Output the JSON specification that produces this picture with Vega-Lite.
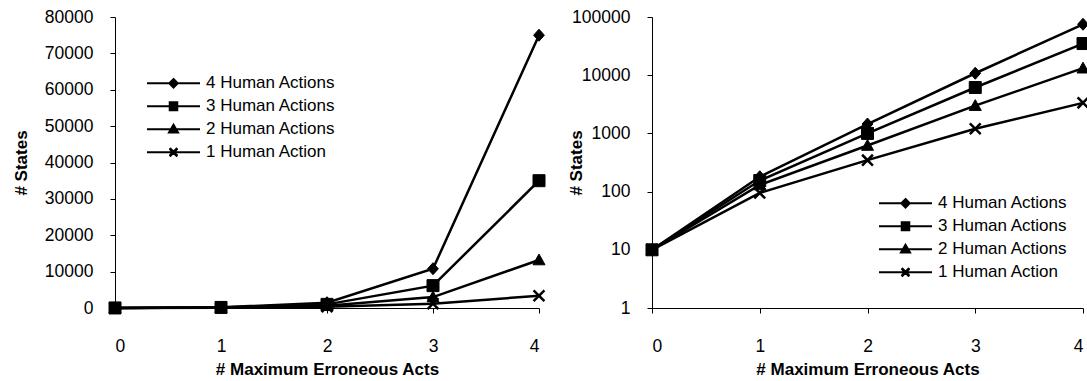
{
  "$schema": "https://vega.github.io/schema/vega-lite/v6.json",
  "padding": {"left": 12, "top": 8, "right": 0, "bottom": 0},
  "background": "white",
  "config": {
    "view": {"stroke": null},
    "font": "Liberation Sans",
    "axis": {"grid": false, "domainColor": "#000", "tickColor": "#000", "labelColor": "#000", "titleColor": "#000", "labelFont": "Liberation Sans", "titleFont": "Liberation Sans", "labelFontSize": 17.5, "titleFontSize": 17, "titleFontWeight": "bold", "tickSize": 5, "domainWidth": 1, "tickWidth": 1},
    "legend": {"padding": 0, "labelFont": "Liberation Sans", "labelFontSize": 17, "labelColor": "#000"}
  },
  "datasets": {
    "d": [
      {"acts": 0, "series": "4 Human Actions", "states": 10},
      {"acts": 1, "series": "4 Human Actions", "states": 180},
      {"acts": 2, "series": "4 Human Actions", "states": 1450},
      {"acts": 3, "series": "4 Human Actions", "states": 10800},
      {"acts": 4, "series": "4 Human Actions", "states": 75000},
      {"acts": 0, "series": "3 Human Actions", "states": 10},
      {"acts": 1, "series": "3 Human Actions", "states": 155},
      {"acts": 2, "series": "3 Human Actions", "states": 1000},
      {"acts": 3, "series": "3 Human Actions", "states": 6150},
      {"acts": 4, "series": "3 Human Actions", "states": 35000},
      {"acts": 0, "series": "2 Human Actions", "states": 10},
      {"acts": 1, "series": "2 Human Actions", "states": 130},
      {"acts": 2, "series": "2 Human Actions", "states": 620},
      {"acts": 3, "series": "2 Human Actions", "states": 3000},
      {"acts": 4, "series": "2 Human Actions", "states": 13200},
      {"acts": 0, "series": "1 Human Action", "states": 10},
      {"acts": 1, "series": "1 Human Action", "states": 95},
      {"acts": 2, "series": "1 Human Action", "states": 347},
      {"acts": 3, "series": "1 Human Action", "states": 1200},
      {"acts": 4, "series": "1 Human Action", "states": 3350}
    ]
  },
  "spacing": 1,
  "hconcat": [
    {
      "width": 424,
      "height": 291,
      "data": {"name": "d"},
      "resolve": {"scale": {"shape": "independent"}},
      "encoding": {
        "x": {"field": "acts", "type": "quantitative", "scale": {"domain": [0, 4], "nice": false}, "axis": {"values": [0, 1, 2, 3, 4], "title": "# Maximum Erroneous Acts", "labelBaseline": "alphabetic", "labelPadding": 38, "titleBaseline": "alphabetic", "titleY": 66}},
        "y": {"field": "states", "type": "quantitative", "scale": {"domain": [0, 80000], "nice": false}, "axis": {"values": [0, 10000, 20000, 30000, 40000, 50000, 60000, 70000, 80000], "format": "d", "title": "# States", "labelPadding": 17, "titleX": -94, "titleBaseline": "middle"}}
      },
      "layer": [
        {"mark": {"type": "line", "color": "#000", "strokeWidth": 2.5}, "encoding": {"detail": {"field": "series"}}},
        {
          "transform": [{"filter": "datum.series != '1 Human Action'"}],
          "mark": {"type": "point", "filled": true, "fill": "#000", "stroke": "#000", "strokeWidth": 1, "size": 144, "opacity": 1},
          "encoding": {"shape": {"field": "series", "legend": null, "scale": {"domain": ["4 Human Actions", "3 Human Actions", "2 Human Actions", "1 Human Action"], "range": ["M0,-1L0.9,0L0,1L-0.9,0Z", "M-1,-1H1V1H-1Z", "M0,-1L1,0.8L-1,0.8Z", "M-0.9,-0.9L0.9,0.9M0.9,-0.9L-0.9,0.9"]}}}
        },
        {
          "transform": [{"filter": "datum.series == '1 Human Action'"}],
          "mark": {"type": "point", "filled": false, "stroke": "#000", "strokeWidth": 2.5, "size": 144, "opacity": 1},
          "encoding": {"shape": {"field": "series", "legend": null, "scale": {"domain": ["4 Human Actions", "3 Human Actions", "2 Human Actions", "1 Human Action"], "range": ["M0,-1L0.9,0L0,1L-0.9,0Z", "M-1,-1H1V1H-1Z", "M0,-1L1,0.8L-1,0.8Z", "M-0.9,-0.9L0.9,0.9M0.9,-0.9L-0.9,0.9"]}}}
        },
        {
          "mark": {"type": "point", "filled": false, "color": "#000", "strokeWidth": 2, "opacity": 0, "size": 2809},
          "encoding": {"shape": {"field": "series", "scale": {"domain": ["4 Human Actions", "3 Human Actions", "2 Human Actions", "1 Human Action"], "range": [
              "M-1,0H1M0,-0.16L0.16,0L0,0.16L-0.16,0ZM-0.085,-0.075H0.085M-0.085,0.075H0.085M-0.02,-0.14H0.02M-0.02,0.14H0.02",
              "M-1,0H1M-0.18,-0.15H0.18M-0.18,-0.075H0.18M-0.18,0.075H0.18M-0.18,0.15H0.18",
              "M-1,0H1M0,-0.17L0.17,0.12L-0.17,0.12ZM-0.13,0.05H0.13M-0.085,-0.025H0.085M-0.04,-0.1H0.04",
              "M-1,0H1M-0.15,-0.15L0.15,0.15M0.15,-0.15L-0.15,0.15M-0.15,-0.13L0.13,0.15M-0.13,-0.15L0.15,0.13M0.15,-0.13L-0.13,0.15M0.13,-0.15L-0.15,0.13"
            ]},
            "legend": {"title": null, "orient": "none", "legendX": 31, "legendY": 55, "symbolSize": 2809, "symbolStrokeWidth": 2, "symbolStrokeColor": "#000", "symbolOpacity": 1, "labelOffset": 5, "clipHeight": 22.6, "rowPadding": 0}}}
        }
      ]
    },
    {
      "width": 431,
      "height": 291,
      "data": {"name": "d"},
      "resolve": {"scale": {"shape": "independent"}},
      "encoding": {
        "x": {"field": "acts", "type": "quantitative", "scale": {"domain": [0, 4], "nice": false}, "axis": {"values": [0, 1, 2, 3, 4], "title": "# Maximum Erroneous Acts", "labelBaseline": "alphabetic", "labelPadding": 38, "titleBaseline": "alphabetic", "titleY": 66}},
        "y": {"field": "states", "type": "quantitative", "scale": {"type": "log", "domain": [1, 100000], "nice": false}, "axis": {"values": [1, 10, 100, 1000, 10000, 100000], "format": "d", "title": "# States", "labelPadding": 17, "titleX": -76, "titleBaseline": "middle"}}
      },
      "layer": [
        {"mark": {"type": "line", "color": "#000", "strokeWidth": 2.5}, "encoding": {"detail": {"field": "series"}}},
        {
          "transform": [{"filter": "datum.series != '1 Human Action'"}],
          "mark": {"type": "point", "filled": true, "fill": "#000", "stroke": "#000", "strokeWidth": 1, "size": 144, "opacity": 1},
          "encoding": {"shape": {"field": "series", "legend": null, "scale": {"domain": ["4 Human Actions", "3 Human Actions", "2 Human Actions", "1 Human Action"], "range": ["M0,-1L0.9,0L0,1L-0.9,0Z", "M-1,-1H1V1H-1Z", "M0,-1L1,0.8L-1,0.8Z", "M-0.9,-0.9L0.9,0.9M0.9,-0.9L-0.9,0.9"]}}}
        },
        {
          "transform": [{"filter": "datum.series == '1 Human Action'"}],
          "mark": {"type": "point", "filled": false, "stroke": "#000", "strokeWidth": 2.5, "size": 144, "opacity": 1},
          "encoding": {"shape": {"field": "series", "legend": null, "scale": {"domain": ["4 Human Actions", "3 Human Actions", "2 Human Actions", "1 Human Action"], "range": ["M0,-1L0.9,0L0,1L-0.9,0Z", "M-1,-1H1V1H-1Z", "M0,-1L1,0.8L-1,0.8Z", "M-0.9,-0.9L0.9,0.9M0.9,-0.9L-0.9,0.9"]}}}
        },
        {
          "mark": {"type": "point", "filled": false, "color": "#000", "strokeWidth": 2, "opacity": 0, "size": 2809},
          "encoding": {"shape": {"field": "series", "scale": {"domain": ["4 Human Actions", "3 Human Actions", "2 Human Actions", "1 Human Action"], "range": [
              "M-1,0H1M0,-0.16L0.16,0L0,0.16L-0.16,0ZM-0.085,-0.075H0.085M-0.085,0.075H0.085M-0.02,-0.14H0.02M-0.02,0.14H0.02",
              "M-1,0H1M-0.18,-0.15H0.18M-0.18,-0.075H0.18M-0.18,0.075H0.18M-0.18,0.15H0.18",
              "M-1,0H1M0,-0.17L0.17,0.12L-0.17,0.12ZM-0.13,0.05H0.13M-0.085,-0.025H0.085M-0.04,-0.1H0.04",
              "M-1,0H1M-0.15,-0.15L0.15,0.15M0.15,-0.15L-0.15,0.15M-0.15,-0.13L0.13,0.15M-0.13,-0.15L0.15,0.13M0.15,-0.13L-0.13,0.15M0.13,-0.15L-0.15,0.13"
            ]},
            "legend": {"title": null, "orient": "none", "legendX": 226, "legendY": 175, "symbolSize": 2809, "symbolStrokeWidth": 2, "symbolStrokeColor": "#000", "symbolOpacity": 1, "labelOffset": 5, "clipHeight": 22.6, "rowPadding": 0}}}
        }
      ]
    }
  ]
}
